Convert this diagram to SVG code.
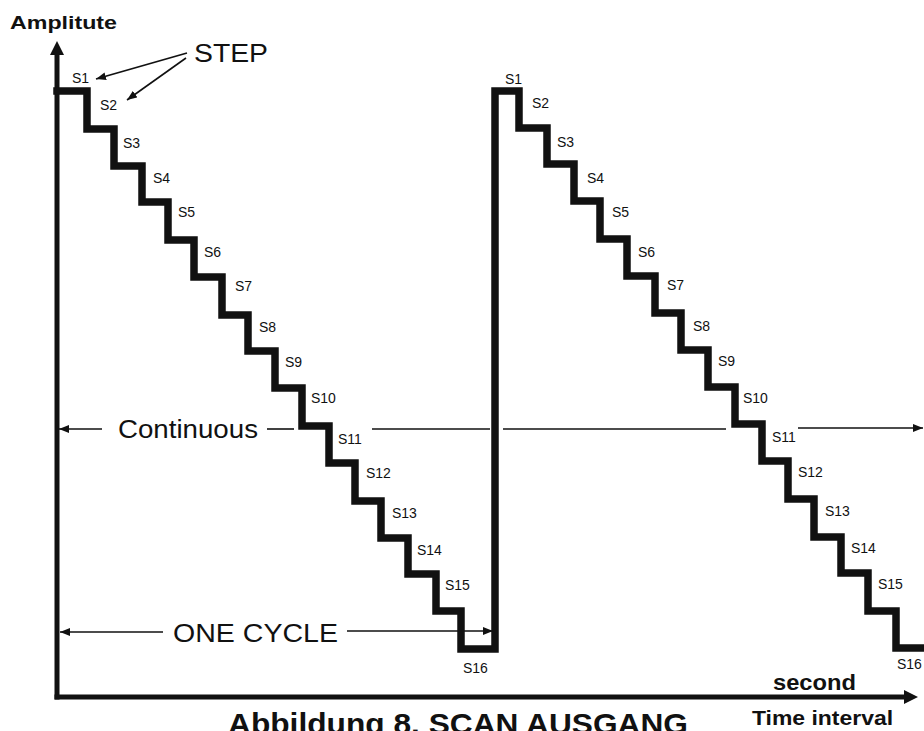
<svg xmlns="http://www.w3.org/2000/svg" width="924" height="731" viewBox="0 0 924 731">
<defs>
<style>
.bg{fill:#fff}
.axis{stroke:#111;stroke-width:5;fill:none}
.stair{stroke:#111;stroke-width:7.5;fill:none;stroke-linejoin:miter;stroke-linecap:square}
.thin{stroke:#111;stroke-width:1.6;fill:none}
.head{fill:#111}
.lbl{font-family:"Liberation Sans",Arial,sans-serif;font-size:14px;fill:#111}
.big{font-family:"Liberation Sans",Arial,sans-serif;font-size:26px;fill:#111}
.bold{font-family:"Liberation Sans",Arial,sans-serif;font-weight:bold;fill:#111}
</style>
<marker id="ah" viewBox="0 0 10 8" refX="10" refY="4" markerWidth="10" markerHeight="8" markerUnits="userSpaceOnUse" orient="auto">
<path d="M0,0 L10,4 L0,8 Z" fill="#111"/>
</marker>
</defs>
<rect class="bg" x="0" y="0" width="924" height="731"/>

<g id="axes">
<line class="axis" x1="57" y1="699.5" x2="57" y2="52"/>
<polygon class="head" points="57,41 50,55 64,55"/>
<line class="axis" x1="54.5" y1="697" x2="906" y2="697"/>
<polygon class="head" points="918,697 904,690 904,704"/>
</g>

<g id="waveform">
<path class="stair" d="M57,91 H87 V129 H114 V166 H142 V202 H168 V240 H194 V277 H222 V315 H248 V351 H275 V388 H302 V426 H329 V463 H355 V501 H381 V538 H408 V574 H436 V611 H461 V649 H495 V91 H519 V128 H547 V164 H574 V201 H600 V239 H627 V276 H655 V313 H681 V350 H708 V387 H735 V424 H762 V461 H788 V499 H814 V537 H841 V573 H868 V611 H896 V648 H934"/>
</g>

<g id="connectors">
<line class="thin" x1="102" y1="429" x2="59" y2="429" marker-end="url(#ah)"/>
<line class="thin" x1="267" y1="429" x2="294" y2="429"/>
<line class="thin" x1="372" y1="429" x2="490" y2="429"/>
<line class="thin" x1="503" y1="429" x2="726" y2="429"/>
<line class="thin" x1="798" y1="428" x2="923" y2="428" marker-end="url(#ah)"/>
<line class="thin" x1="163" y1="632" x2="60" y2="632" marker-end="url(#ah)"/>
<line class="thin" x1="347" y1="631" x2="493" y2="631" marker-end="url(#ah)"/>
<line class="thin" x1="187" y1="53" x2="96" y2="79" marker-end="url(#ah)"/>
<line class="thin" x1="186" y1="58" x2="127" y2="100" marker-end="url(#ah)"/>
</g>

<g id="labels-left">
<text class="lbl" x="72" y="83">S1</text>
<text class="lbl" x="100" y="110">S2</text>
<text class="lbl" x="123" y="148">S3</text>
<text class="lbl" x="153" y="183">S4</text>
<text class="lbl" x="178" y="217">S5</text>
<text class="lbl" x="204" y="257">S6</text>
<text class="lbl" x="235" y="291">S7</text>
<text class="lbl" x="259" y="332">S8</text>
<text class="lbl" x="285" y="367">S9</text>
<text class="lbl" x="311" y="403">S10</text>
<text class="lbl" x="338" y="444">S11</text>
<text class="lbl" x="366" y="478">S12</text>
<text class="lbl" x="392" y="518">S13</text>
<text class="lbl" x="417" y="555">S14</text>
<text class="lbl" x="445" y="590">S15</text>
<text class="lbl" x="463" y="673">S16</text>
</g>

<g id="labels-right">
<text class="lbl" x="505" y="84">S1</text>
<text class="lbl" x="532" y="108">S2</text>
<text class="lbl" x="557" y="147">S3</text>
<text class="lbl" x="587" y="183">S4</text>
<text class="lbl" x="612" y="217">S5</text>
<text class="lbl" x="638" y="257">S6</text>
<text class="lbl" x="667" y="290">S7</text>
<text class="lbl" x="693" y="331">S8</text>
<text class="lbl" x="718" y="366">S9</text>
<text class="lbl" x="743" y="403">S10</text>
<text class="lbl" x="772" y="442">S11</text>
<text class="lbl" x="798" y="477">S12</text>
<text class="lbl" x="825" y="516">S13</text>
<text class="lbl" x="851" y="553">S14</text>
<text class="lbl" x="878" y="589">S15</text>
<text class="lbl" x="897" y="669">S16</text>
</g>

<g id="titles">
<text class="bold" x="10" y="29" font-size="19" textLength="107" lengthAdjust="spacingAndGlyphs">Amplitute</text>
<text class="big" x="194" y="62" font-size="25" textLength="74" lengthAdjust="spacingAndGlyphs">STEP</text>
<text class="big" x="118" y="438" textLength="140" lengthAdjust="spacingAndGlyphs">Continuous</text>
<text class="big" x="173" y="642" textLength="165" lengthAdjust="spacingAndGlyphs">ONE CYCLE</text>
<text class="bold" x="773" y="690" font-size="22" textLength="83" lengthAdjust="spacingAndGlyphs">second</text>
<text class="bold" x="752" y="725" font-size="21" textLength="141" lengthAdjust="spacingAndGlyphs">Time interval</text>
<text class="bold" x="228" y="734" font-size="30" textLength="460" lengthAdjust="spacingAndGlyphs">Abbildung 8. SCAN AUSGANG</text>
</g>
</svg>
